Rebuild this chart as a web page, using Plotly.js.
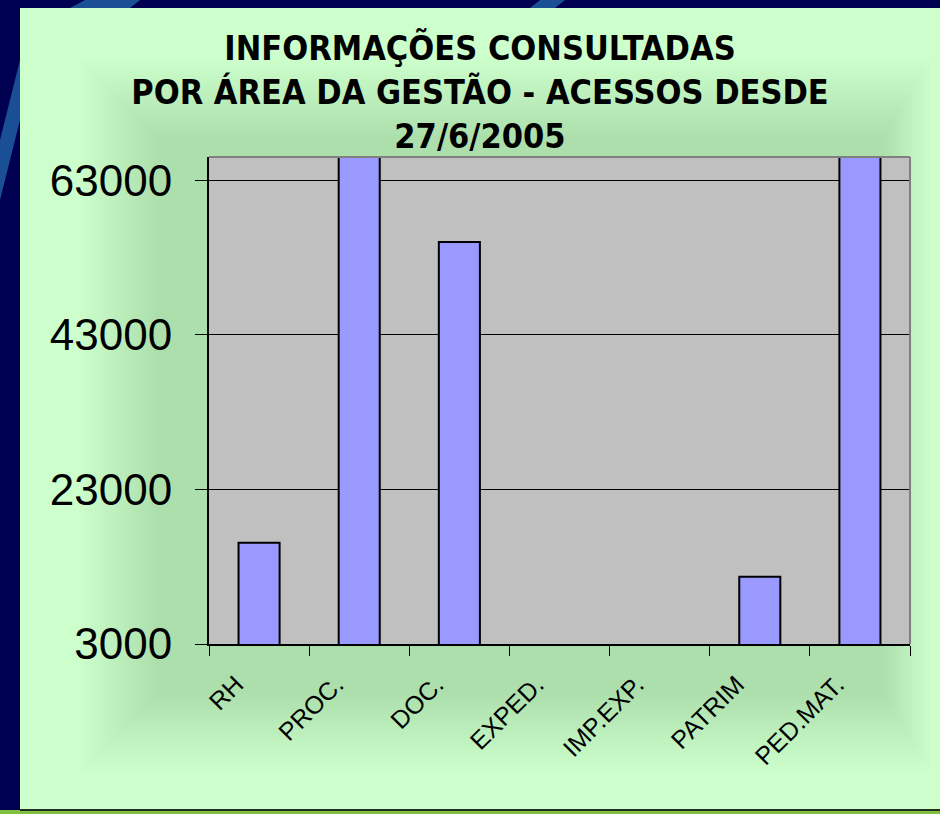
<!DOCTYPE html>
<html>
<head>
<meta charset="utf-8">
<script src="https://cdn.plot.ly/plotly-3.0.1.min.js"></script>
<style>html,body{margin:0;padding:0;background:#000050;}</style>
</head>
<body>
<div id="chart" style="width:940px;height:814px;"></div>
<script>
// areas of the management and the accesses for each
const areas = ['RH', 'PROC.', 'DOC.', 'EXPED.', 'IMP.EXP.', 'PATRIM', 'PED.MAT.'];
const acessos = [16100, 66500, 55000, 0, 0, 11700, 66000];
const yTicks = [3000, 23000, 43000, 63000];

// plot box in pixels, used to place the decoration shapes
const W = 940, H = 814;
const L = 209, R = 910, T = 157, B = 644;
const px = x => (x - L) / (R - L);
const py = y => (B - y) / (B - T);

const rect = (x0, y0, x1, y1, fill, extra) => Object.assign({
    type: 'rect', xref: 'paper', yref: 'paper', layer: 'below',
    x0: px(x0), x1: px(x1), y0: py(y1), y1: py(y0),
    fillcolor: fill, line: {width: 0}
}, extra || {});

let shapes = [];
// light stripes of the slide background
shapes.push({type: 'path', xref: 'paper', yref: 'paper', layer: 'below',
    path: `M ${px(0)} ${py(200)} L ${px(20)} ${py(120)} L ${px(20)} ${py(60)} L ${px(0)} ${py(140)} Z`,
    fillcolor: '#1a4f96', line: {width: 0}});
shapes.push({type: 'path', xref: 'paper', yref: 'paper', layer: 'below',
    path: `M ${px(70)} ${py(8)} L ${px(85)} ${py(0)} L ${px(140)} ${py(0)} L ${px(130)} ${py(8)} Z`,
    fillcolor: '#1a4f96', line: {width: 0}});
shapes.push({type: 'path', xref: 'paper', yref: 'paper', layer: 'below',
    path: `M ${px(530)} ${py(8)} L ${px(540)} ${py(0)} L ${px(565)} ${py(0)} L ${px(555)} ${py(8)} Z`,
    fillcolor: '#1a4f96', line: {width: 0}});
// green panel
shapes.push(rect(20, 8, 940, 810, '#ccffcc'));
// soft shadow round the chart
for (let i = 0; i < 16; i++) {
    const d = i * 5;
    shapes.push(rect(80 + d, 60 + d, 930 - d * 0.6, 770 - d, 'rgba(110,170,110,0.022)'));
}
// bottom edge of the panel
shapes.push(rect(0, 810, 940, 814, '#80c040'));
shapes.push(rect(20, 809, 940, 811, '#203020'));
// plot area
shapes.push(rect(L, T, R, B, '#c0c0c0'));
// gray frame on top and right
shapes.push({type: 'line', xref: 'paper', yref: 'paper', x0: 0, x1: 1, y0: 1, y1: 1,
    line: {color: '#808080', width: 2}});
shapes.push({type: 'line', xref: 'paper', yref: 'paper', x0: 1, x1: 1, y0: 0, y1: 1,
    line: {color: '#808080', width: 2}});

const trace = {
    type: 'bar',
    x: areas,
    y: acessos,
    marker: {color: '#9999ff', line: {color: '#000000', width: 2}},
    hoverinfo: 'x+y'
};

const layout = {
    width: W, height: H,
    margin: {l: L, r: W - R, t: T, b: H - B, pad: 0},
    paper_bgcolor: '#000050',
    plot_bgcolor: 'rgba(0,0,0,0)',
    showlegend: false,
    bargap: 0.59,
    title: {
        text: 'INFORMAÇÕES CONSULTADAS<br>POR ÁREA DA GESTÃO - ACESSOS DESDE<br>27/6/2005',
        font: {family: 'DejaVu Sans Condensed, DejaVu Sans, sans-serif', size: 34, weight: 'bold', color: '#000000'},
        x: 480 / W, xanchor: 'center', xref: 'container',
        y: 1 - 60 / H, yanchor: 'top', yref: 'container'
    },
    xaxis: {
        type: 'category',
        tickson: 'boundaries',
        ticks: 'outside', ticklen: 10, tickcolor: '#000000', tickwidth: 1,
        tickangle: -45,
        ticklabelstandoff: 14,
        ticklabelshift: -23,
        tickfont: {family: 'Liberation Sans, Arial, sans-serif', size: 25, color: '#000000'},
        showline: true, linecolor: '#000000', linewidth: 2,
        showgrid: false, fixedrange: true
    },
    yaxis: {
        range: [3000, 66000],
        tickmode: 'array', tickvals: yTicks, ticktext: yTicks.map(String),
        ticks: 'outside', ticklen: 12, tickcolor: '#000000', tickwidth: 1,
        ticklabelstandoff: 14,
        tickfont: {family: 'Liberation Sans, Arial, sans-serif', size: 44, color: '#000000'},
        showline: true, linecolor: '#000000', linewidth: 2,
        showgrid: true, gridcolor: '#000000', gridwidth: 1,
        zeroline: false, fixedrange: true
    },
    shapes: shapes
};

Plotly.newPlot('chart', [trace], layout, {displayModeBar: false, staticPlot: true});
</script>
</body>
</html>
